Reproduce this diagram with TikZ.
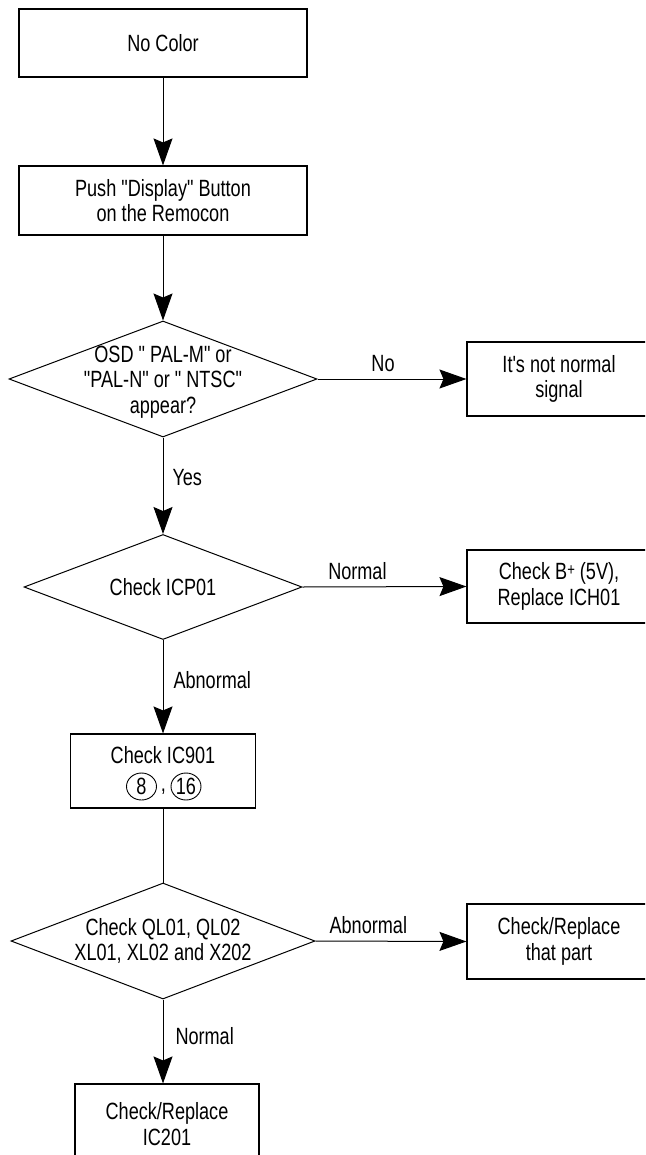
\documentclass[tikz,border=0pt]{standalone}
\usepackage{fontspec}
\setmainfont{Liberation Sans}[FakeStretch=0.77,Ligatures=TeXOff]
\usetikzlibrary{arrows.meta,shapes.geometric}

\begin{document}
\begin{tikzpicture}[x=1pt,y=-1pt,
  every node/.style={font=\fontsize{23.5}{25.5}\selectfont, align=center, inner sep=0pt},
  box/.style={draw, line width=1.1pt, rectangle},
  decision/.style={draw, line width=1pt, diamond},
  link/.style={line width=1pt},
  arr/.style={link, -{Stealth[length=27pt,width=19pt,inset=4pt]}},
  edgelbl/.style={anchor=base, yshift=7.5pt},
  sidelbl/.style={anchor=west},
  pin/.style={draw, ellipse, line width=0.9pt, minimum width=30pt, minimum height=27pt}
]
\useasboundingbox (0,0) rectangle (645,1155);
\clip (0,0) rectangle (645,1155);

% main column
\node[box, minimum width=288pt, minimum height=68pt] (start) at (163,43) {No Color};
\node[box, minimum width=288pt, minimum height=69pt] (push) at (163,200.5)
  {Push "Display" Button\\on the Remocon};
\node[decision, minimum width=308pt, minimum height=116pt,
  label={[yshift=-3pt]center:{OSD " PAL-M" or\\"PAL-N" or " NTSC"\\appear?}}] (osd) at (163,379) {};
\node[decision, minimum width=278pt, minimum height=105pt,
  label={center:{Check ICP01}}] (icp) at (163,587) {};
\node[box, minimum width=185pt, minimum height=74pt] (ic901) at (163,771) {};
\node (ic901t) at (163,755) {Check IC901};
\node[pin] (pin8) at (141.5,786.5) {8};
\node[pin] (pin16) at (186,786.5) {16};
\node (comma) at (163.5,792) {,};
\node[decision, minimum width=304pt, minimum height=116pt,
  label={center:{Check QL01, QL02\\XL01, XL02 and X202}}] (parts) at (163,941) {};
\node[box, minimum width=184pt, minimum height=80pt] (ic201) at (167,1124)
  {Check/Replace\\IC201};

% right column
\node[box, minimum width=184pt, minimum height=74pt] (notnorm) at (559,379)
  {It's not normal\\signal};
\node[box, minimum width=184pt, minimum height=73pt] (bplus) at (559,586.5)
  {Check B\raisebox{4pt}{\fontsize{17}{17}\selectfont +} (5V),\\Replace ICH01};
\node[box, minimum width=184pt, minimum height=75pt] (thatpart) at (559,941.5)
  {Check/Replace\\that part};

% connectors
\draw[arr] (start) -- (push);
\draw[arr] (push) -- (osd);
\draw[arr] (osd.east) -- (notnorm.west) node[pos=0.44, edgelbl] {No};
\draw[arr] (osd.south) -- (icp.north) node[pos=0.41, sidelbl, xshift=9pt] {Yes};
\draw[arr] (icp.east) -- (bplus.west) node[pos=0.335, edgelbl] {Normal};
\draw[arr] (icp.south) -- (ic901.north) node[pos=0.43, sidelbl, xshift=10pt] {Abnormal};
\draw[link] (ic901.south) -- (parts.north);
\draw[arr] (parts.east) -- (thatpart.west) node[pos=0.35, edgelbl] {Abnormal};
\draw[arr] (parts.south) -- (parts.south |- ic201.north) node[pos=0.43, sidelbl, xshift=12pt] {Normal};
\end{tikzpicture}
\end{document}
